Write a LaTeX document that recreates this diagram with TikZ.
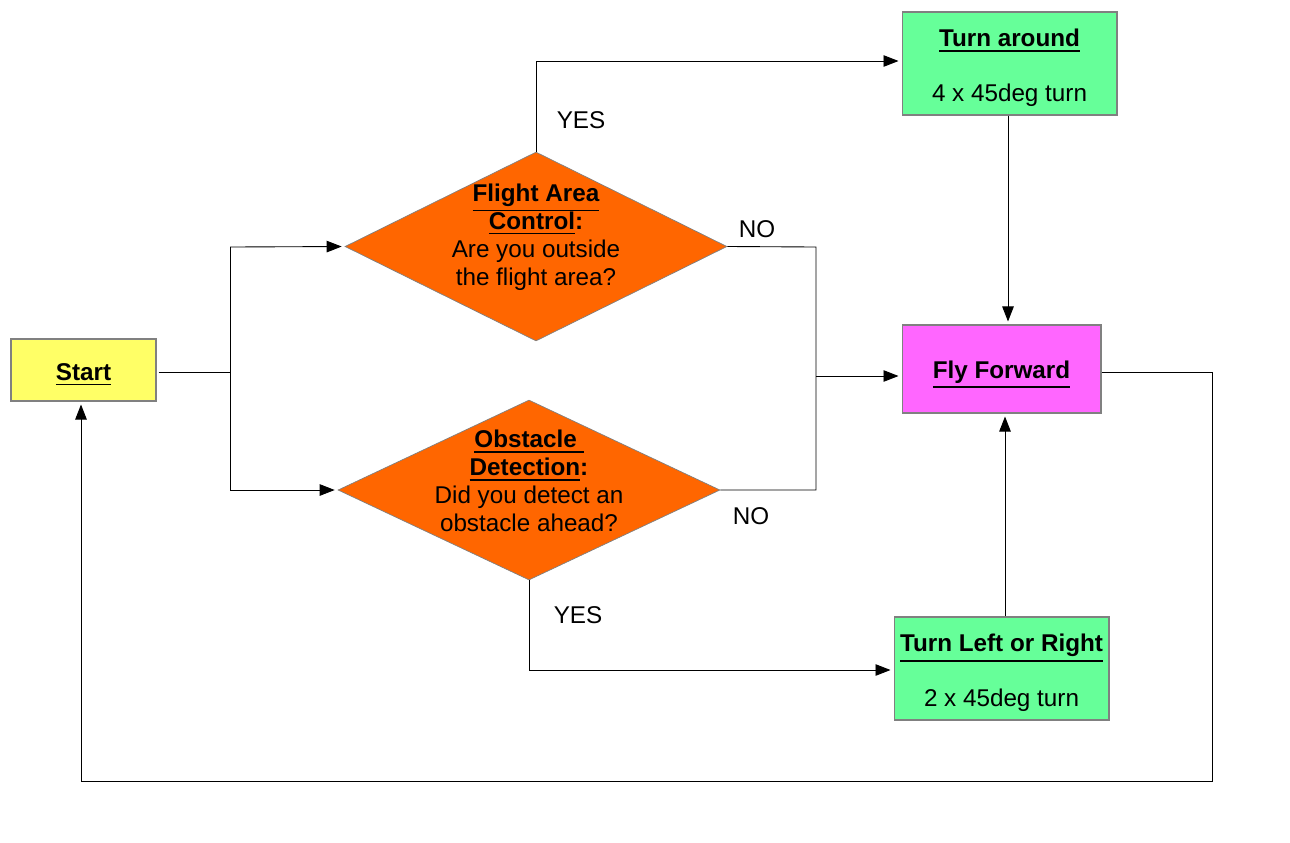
\documentclass[tikz,border=0pt]{standalone}
\usepackage{fontspec}
\setmainfont{Liberation Sans}
\usetikzlibrary{shapes.geometric,arrows.meta}
\definecolor{cstart}{HTML}{FFFF66}
\definecolor{cdec}{HTML}{FF6600}
\definecolor{cgreen}{HTML}{66FF99}
\definecolor{cfly}{HTML}{FF66FF}
\definecolor{cborder}{HTML}{808080}
\newcommand{\ubf}[1]{\vtop{\hbox{\textbf{#1}}\kern1.8pt\hrule height 1pt}}
\newcommand{\dn}[2][2.5pt]{\raisebox{-#1}[\height][\depth]{#2}}
\tikzset{
  every node/.style={font=\fontsize{13.8pt}{15.9pt}\selectfont},
  box/.style={draw=cborder, line width=0.6pt, inner sep=0pt, align=center},
  dec/.style={shape=diamond, draw=cborder, line width=0.4pt, fill=cdec, inner sep=0pt},
  lbl/.style={inner sep=0pt},
  conn/.style={line width=0.5pt, black},
  arr/.style={conn, -{Triangle[length=3mm,width=2.3mm]}, shorten >=0.06cm},
}
\begin{document}
\begin{tikzpicture}[x=0.02cm, y=-0.02cm]
\useasboundingbox (0,0) rectangle (1290,842);
% nodes
\node[box, fill=cstart, minimum width=2.9cm, minimum height=1.24cm] (start) at (83.5,370) {\dn{\ubf{Start}}};
\node[dec, minimum width=7.64cm, minimum height=3.78cm] (d1) at (536,246.5) {};
\node[align=center, inner sep=0pt] (d1t) at (536,237) {\ubf{Flight Area}\\\ubf{Control}\textbf{:}\\Are you outside\\ the flight area?};
\node[dec, minimum width=7.64cm, minimum height=3.6cm] (d2) at (529,490) {};
\node[align=center, inner sep=0pt] (d2t) at (529,481) {\ubf{Obstacle }\\\ubf{Detection}\textbf{:}\\Did you detect an\\obstacle ahead?};
\node[box, fill=cgreen, minimum width=4.3cm, minimum height=2.06cm] (ta) at (1009.5,63.5) {\dn{\ubf{Turn around}}\\[15.3pt]\dn{4 x 45deg turn}};
\node[box, fill=cfly, minimum width=3.98cm, minimum height=1.76cm] (ff) at (1001.5,369) {\dn[3pt]{\ubf{Fly Forward}}};
\node[box, fill=cgreen, minimum width=4.3cm, minimum height=2.06cm] (tlr) at (1001.5,668.5) {\dn{\ubf{Turn Left or Right}}\\[15.3pt]\dn{2 x 45deg turn}};
% labels
\node[lbl] (yes1) at (581,120) {YES};
\node[lbl] (no1) at (757,229) {NO};
\node[lbl] (no2) at (751,516) {NO};
\node[lbl] (yes2) at (578,615) {YES};
% coordinates
\coordinate (sp) at (230,372);
\coordinate (sa) at (230,247);
\coordinate (sb) at (230,490);
\coordinate (ya) at (536,61);
\coordinate (ma) at (816,247);
\coordinate (mb) at (816,490);
\coordinate (mm) at (816,376);
\coordinate (yb) at (529,670);
\coordinate (ra) at (1212,372);
\coordinate (rb) at (1212,781);
\coordinate (lb) at (81,781);
% connectors
\draw[conn] ([xshift=0.04cm]start.east |- sp) -- (sp);
\draw[conn] (sa) -- (sb);
\draw[arr] (sa) -- (d1.west);
\draw[arr] (sb) -- (d2.west);
\draw[arr] (d1.north) -- (ya) -- (ya -| ta.west);
\draw[conn] (d1.east) -- (ma) -- (mb) -- (d2.east);
\draw[arr] (mm) -- (mm -| ff.west);
\draw[arr] (ta.south -| 1008,0) -- (ff.north -| 1008,0);
\draw[arr] (d2.south) -- (yb) -- (yb -| tlr.west);
\draw[arr] (tlr.north -| 1005,0) -- (ff.south -| 1005,0);
\draw[arr] (ff.east |- ra) -- (ra) -- (rb) -- (lb) -- (lb |- start.south);
\end{tikzpicture}
\end{document}
